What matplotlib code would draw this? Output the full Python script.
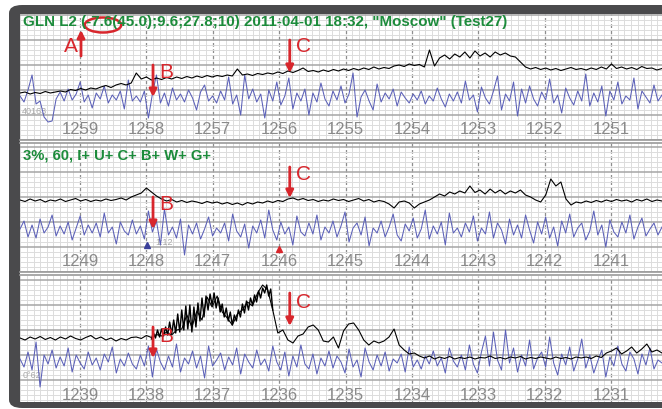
import numpy as np
import matplotlib
matplotlib.use("Agg")
import matplotlib.pyplot as plt
import matplotlib.transforms as mtransforms
from matplotlib.patches import FancyBboxPatch, Rectangle, Ellipse
from matplotlib.ticker import MultipleLocator

plt.rcParams['font.family'] = ['Liberation Sans', 'DejaVu Sans']

# ---- data ----
title_text = 'GLN L2 (-7.6(45.0);9.6;27.8;10) 2011-04-01 18:32, "Moscow" (Test27)'
mode_text = '3%, 60, I+ U+ C+ B+ W+ G+'

p1_ticks = [1259, 1258, 1257, 1256, 1255, 1254, 1253, 1252, 1251]
p2_ticks = [1249, 1248, 1247, 1246, 1245, 1244, 1243, 1242, 1241]
p3_ticks = [1239, 1238, 1237, 1236, 1235, 1234, 1233, 1232, 1231]

# faint counter labels at the left/bottom of each strip: panel, x, y, text
faint_notes = [(0, 1259.87, 5.8, '40163'), (1, 1247.86, 5.8, '1:12'), (2, 1239.87, 5.9, '0°62')]

p1_black = [9.4, 9.6, 9.2, 9.5, 9.3, 9.7, 9.4, 9.6,
            9.8, 9.6, 10.1, 9.9, 10.3, 10.0, 10.4, 10.2,
            10.6, 10.9, 10.5, 11.0, 11.3, 11.0, 11.4, 13.4,
            12.2, 12.6, 12.0, 12.4, 12.1, 12.5, 12.2, 12.6,
            12.3, 12.7, 12.4, 12.8, 12.5, 12.9, 12.6, 12.9,
            12.7, 13.0, 12.8, 14.2, 13.0, 13.2, 12.9, 13.3,
            13.1, 13.4, 13.2, 13.6, 13.3, 13.8, 13.5, 13.9,
            14.4, 13.7, 13.9, 13.6, 14.0, 13.7, 14.1, 13.8,
            14.2, 13.9, 14.3, 14.0, 14.4, 14.1, 14.6, 14.2,
            14.5, 14.3, 14.8, 15.0, 14.7, 15.2, 14.9, 15.1,
            14.6, 18.0, 14.8, 16.4, 17.0, 16.2, 17.2, 16.6,
            17.6, 16.4, 17.8, 16.8, 17.4, 16.6, 17.6, 17.0,
            17.4, 16.8, 16.6, 15.6, 14.6, 14.2, 14.5, 14.1,
            14.4, 14.0, 14.3, 13.9, 14.2, 14.5, 14.1, 14.3,
            14.0, 14.4, 14.1, 14.6, 14.2, 15.2, 14.3, 14.6,
            14.2, 14.5, 14.1, 14.7, 14.3, 14.4, 14.0, 14.3]

p1_blue = [8.8, 7.6, 10.0, 13.0, 7.2, 7.8, 4.6, 3.6, 3.8, 8.2,
           9.6, 7.8, 10.2, 8.0, 9.2, 11.6, 7.6, 9.0, 6.4, 9.4,
           8.2, 10.8, 7.4, 9.0, 8.0, 9.8, 6.2, 12.0, 7.8, 8.8,
           7.6, 9.8, 4.4, 9.2, 13.0, 7.4, 9.4, 6.8, 10.4, 8.0,
           9.2, 7.6, 10.0, 8.4, 6.0, 9.6, 11.0, 7.8, 8.8, 7.4,
           9.8, 8.0, 12.6, 7.2, 9.0, 5.0, 13.0, 8.2, 10.2, 7.6,
           9.2, 4.4, 10.0, 7.8, 11.6, 7.0, 8.8, 12.4, 6.2, 9.4,
           7.8, 10.2, 5.0, 9.4, 7.6, 11.4, 8.2, 6.8, 9.8, 8.0,
           10.8, 7.4, 9.2, 13.4, 4.6, 8.6, 10.0, 7.8, 6.0, 11.2,
           7.6, 9.4, 8.2, 10.2, 6.8, 9.6, 8.4, 7.4, 9.2, 8.0,
           9.8, 7.2, 8.8, 7.8, 10.4, 8.2, 6.6, 9.2, 7.8, 9.6,
           7.4, 11.8, 8.0, 9.0, 5.6, 10.6, 8.4, 7.2, 9.8, 12.8,
           6.0, 9.2, 7.8, 11.6, 4.8, 10.2, 7.4, 10.8, 8.2, 6.8,
           9.6, 8.0, 12.2, 7.4, 9.0, 5.4, 10.4, 8.4, 7.0, 9.8,
           7.8, 13.2, 6.8, 9.4, 7.6, 10.8, 4.8, 9.8, 8.0, 11.6,
           7.2, 8.8, 8.0, 12.4, 6.2, 9.8, 8.6, 7.4, 11.0, 7.8, 9.0]

p2_black = [14.4, 14.1, 14.6, 14.2, 14.5, 14.0, 14.4, 14.2,
            14.6, 14.1, 14.4, 14.7, 14.2, 14.5, 14.1, 14.4,
            14.2, 14.6, 14.3, 14.5, 14.8, 14.4, 15.0, 15.4,
            15.8, 16.8, 16.0, 15.2, 14.6, 14.2, 14.5, 14.0,
            14.3, 13.9, 14.2, 14.0, 13.7, 14.1, 13.8, 14.0,
            13.6, 13.9, 13.5, 13.8, 13.4, 13.9, 13.6, 14.0,
            13.8, 14.2, 13.9, 14.3, 14.1, 14.6, 14.8, 14.4,
            14.7, 14.3, 14.5, 14.1, 14.4, 14.2, 14.6, 14.3,
            14.5, 14.1, 14.4, 14.7, 14.2, 14.5, 14.0, 14.3,
            14.1, 13.6, 12.8, 14.0, 14.2, 13.8, 12.8, 13.6,
            14.0, 14.4, 15.0, 15.6, 15.2, 16.0, 15.6, 16.2,
            15.8, 17.2, 15.9, 16.4, 15.6, 16.6, 15.8, 16.4,
            15.6, 16.2, 15.8, 16.4, 15.4, 15.0, 14.4, 14.0,
            15.4, 18.6, 17.2, 18.0, 14.6, 13.4, 14.0, 13.8,
            14.2, 13.9, 14.3, 14.0, 14.4, 14.1, 14.5, 14.2,
            14.4, 14.0, 14.5, 14.2, 14.6, 14.1, 14.4, 14.2]

p2_blue = [8.6, 10.2, 7.0, 9.4, 6.8, 10.6, 7.8, 9.0, 11.4, 7.2,
           9.2, 7.6, 10.0, 6.4, 8.8, 11.2, 7.4, 9.4, 7.8, 9.8,
           7.0, 11.8, 7.8, 9.0, 5.6, 10.0, 8.2, 7.4, 10.4, 7.6,
           9.2, 6.6, 12.2, 8.0, 10.2, 5.4, 12.6, 7.4, 9.0, 6.8,
           10.6, 3.4, 9.4, 7.6, 9.8, 6.6, 8.6, 11.0, 7.2, 8.8,
           7.8, 9.8, 6.2, 11.6, 8.2, 7.0, 9.6, 4.8, 9.2, 7.8,
           10.4, 6.8, 12.4, 8.4, 6.4, 10.0, 7.6, 9.0, 5.4, 11.2,
           8.0, 7.2, 9.8, 7.6, 11.4, 6.4, 9.0, 7.8, 10.2, 7.0,
           9.2, 12.0, 6.0, 8.8, 9.8, 7.4, 11.0, 5.2, 8.8, 7.8,
           10.2, 7.0, 9.0, 11.6, 7.4, 6.2, 9.6, 8.2, 10.8, 6.8,
           8.6, 12.4, 6.6, 9.2, 7.6, 10.0, 5.4, 11.8, 7.8, 8.8,
           7.0, 9.8, 8.0, 11.2, 6.2, 8.8, 7.6, 12.0, 6.8, 9.8,
           8.4, 5.6, 10.6, 7.4, 9.4, 6.8, 11.4, 8.4, 5.8, 10.0,
           7.6, 11.0, 6.8, 9.0, 5.2, 10.2, 7.8, 11.6, 7.0, 8.8,
           9.8, 6.4, 8.2, 12.2, 7.4, 9.4, 5.0, 10.4, 8.0, 7.0,
           10.0, 7.8, 11.4, 6.6, 9.0, 10.8, 7.2, 8.6, 9.8, 7.4, 9.0]

p3_black = [13.4, 13.0, 13.6, 13.2, 13.7, 13.1, 13.5, 13.0,
            13.6, 13.2, 13.8, 13.3, 13.0, 13.5, 13.9, 13.2,
            13.6, 13.0, 13.4, 12.8, 13.3, 13.0, 13.5, 13.6,
            13.3, 13.9, 13.5, 14.1, 13.8, 14.6, 14.0, 15.0,
            15.2, 18.0, 15.6, 18.8, 17.0, 21.6, 19.6, 21.8,
            18.6, 17.4, 16.0, 18.2, 19.0, 20.6, 19.8, 22.4,
            24.0, 23.0, 19.0, 14.4, 15.0, 13.0, 12.4, 13.8,
            14.2, 15.6, 16.0, 15.0, 12.8, 12.6, 13.6, 11.4,
            14.8, 16.2, 16.4, 15.0, 13.0, 12.0, 12.8, 12.4,
            12.8, 13.6, 15.2, 12.0, 11.0, 10.2, 10.4, 9.8,
            9.4, 9.8, 9.2, 9.6, 9.3, 9.7, 9.2, 9.5,
            9.3, 9.6, 9.2, 9.5, 9.4, 9.8, 9.3, 9.5,
            9.2, 9.6, 9.4, 9.7, 9.2, 9.5, 9.3, 9.6,
            9.4, 9.2, 9.6, 9.3, 9.5, 9.2, 9.6, 9.4,
            9.6, 9.3, 9.8, 9.5, 10.4, 10.8, 11.4, 10.2,
            10.8, 11.6, 10.4, 11.2, 12.2, 10.6, 11.0, 10.4]

# finer samples of the noisy burst (spans samples 26..50 of p3_black)
p3_burst = [13.2, 14.4, 13.4, 15.0, 13.6, 15.2,
            13.8, 15.6, 14.0, 16.6, 14.2, 17.0,
            14.4, 18.2, 14.6, 19.0, 15.0, 19.8,
            15.2, 20.0, 14.6, 19.6, 15.6, 20.4,
            16.8, 21.4, 17.6, 21.8, 19.0, 22.2,
            20.0, 22.4, 19.4, 21.4, 18.6, 20.2,
            17.6, 19.4, 16.8, 18.6, 16.0, 18.0,
            16.8, 19.0, 17.6, 20.2, 18.4, 20.8,
            19.0, 21.4, 20.0, 22.0, 20.6, 22.8,
            21.4, 23.4, 22.4, 24.0, 21.8, 23.2,
            19.0]

p3_blue = [9.2, 7.6, 10.6, 7.0, 12.6, 3.6, 10.0, 8.2, 11.0, 7.4,
           9.6, 7.8, 11.4, 6.6, 10.0, 8.4, 7.2, 10.6, 8.0, 9.4,
           7.0, 10.2, 8.6, 11.6, 6.4, 9.2, 7.8, 10.4, 8.2, 7.2,
           10.0, 7.8, 11.8, 5.6, 11.2, 8.6, 7.0, 9.8, 7.6, 12.2,
           6.6, 9.4, 8.2, 10.8, 7.4, 9.8, 5.4, 11.8, 7.8, 9.0,
           10.4, 7.0, 9.6, 8.0, 11.4, 6.2, 10.2, 8.6, 7.4, 11.0,
           8.0, 9.2, 6.8, 11.8, 8.6, 7.0, 10.6, 5.8, 9.8, 7.6,
           12.0, 8.2, 7.2, 10.2, 6.2, 9.4, 7.8, 10.8, 7.4, 9.8,
           8.6, 6.4, 11.2, 7.6, 9.0, 5.6, 11.4, 8.6, 7.0, 10.0,
           7.8, 10.6, 6.8, 9.2, 8.4, 10.2, 6.6, 11.6, 7.6, 9.0,
           7.2, 9.8, 8.2, 10.8, 7.8, 9.4, 6.4, 11.4, 8.8, 7.6,
           10.0, 7.0, 12.0, 8.2, 6.4, 10.6, 13.8, 7.8, 14.6, 9.0,
           7.0, 15.0, 8.4, 11.4, 6.6, 10.0, 7.8, 13.0, 7.2, 9.4,
           10.6, 7.6, 13.6, 8.4, 6.0, 10.2, 8.0, 11.6, 6.8, 9.2,
           13.2, 7.4, 10.0, 6.4, 8.8, 11.0, 5.6, 9.6, 7.8, 11.8,
           8.2, 6.8, 10.6, 9.2, 6.2, 10.2, 8.0, 11.4, 7.2, 9.0, 8.4]

# red markers: panel, x, arrow tail y, arrow head y, letter, letter x, letter y, side
arrows = [
    (0, 1258.985, 16.8, 22.0, 'A', 1259.03, 18.6, 'right'),
    (0, 1257.90, 15.0, 8.6, 'B', 1257.81, 13.6, 'left'),
    (0, 1255.84, 20.0, 13.4, 'C', 1255.75, 18.6, 'left'),
    (1, 1247.90, 15.0, 8.6, 'B', 1247.81, 13.4, 'left'),
    (1, 1245.84, 21.0, 14.8, 'C', 1245.75, 19.4, 'left'),
    (2, 1237.90, 15.6, 9.4, 'B', 1237.81, 13.8, 'left'),
    (2, 1235.84, 22.4, 15.8, 'C', 1235.75, 20.6, 'left'),
]

RED = '#d8262c'
BLUE = '#5b60b8'
GREEN = '#1c8b3b'
FRAME = '#4a4a4c'

W, H = 662, 409


def fx(px):
    return px / W


def fy(py):
    return 1 - py / H


def setup_panel(fig, top, bottom, x0, x1, y0, y1):
    ax = fig.add_axes([fx(20), fy(bottom), fx(W - 20), (bottom - top) / H])
    ax.set_xlim(x0, x1)
    ax.set_ylim(y0, y1)
    ax.xaxis.set_major_locator(MultipleLocator(1))
    ax.xaxis.set_minor_locator(MultipleLocator(0.1))
    ax.yaxis.set_major_locator(MultipleLocator(5))
    ax.yaxis.set_minor_locator(MultipleLocator(1))
    ax.grid(which='minor', color='#dcdcdc', lw=0.7)
    ax.grid(which='major', axis='y', color='#a6a6a6', lw=1.1)
    ax.grid(which='major', axis='x', color='#8e8e8e', lw=0.9, ls=(0, (3, 2)))
    ax.set_axisbelow(True)
    ax.tick_params(which='both', length=0, labelbottom=False, labelleft=False)
    for s in ax.spines.values():
        s.set_visible(False)
    trans = mtransforms.blended_transform_factory(ax.transData, ax.transAxes)
    return ax, trans


def main():
    fig = plt.figure(figsize=(W / 100, H / 100), dpi=100)
    fig.patch.set_facecolor('white')

    # dark rounded frame and white inner area
    fig.add_artist(FancyBboxPatch((fx(9), fy(408)), fx(W + 40), (408 - 5) / H,
                                  boxstyle='round,pad=0,rounding_size=0.02',
                                  transform=fig.transFigure, fc=FRAME, ec='none', zorder=0))
    fig.add_artist(Rectangle((fx(20), fy(402)), fx(W), (402 - 14) / H,
                             transform=fig.transFigure, fc='white', ec='none', zorder=0))

    panels = [
        (14, 140, 1259.904, 1250.232, 0.0, 25.2, p1_ticks, p1_black, p1_blue, 130),
        (143, 272, 1249.904, 1240.232, 0.0, 25.8, p2_ticks, p2_black, p2_blue, 261),
        (276, 402, 1239.904, 1230.232, 0.6, 25.8, p3_ticks, p3_black, p3_blue, 396),
    ]
    axes = []
    for top, bottom, x0, x1, y0, y1, ticks, black, blue, label_py in panels:
        ax, trans = setup_panel(fig, top, bottom, x0, x1, y0, y1)
        xb = np.linspace(x0, x1, len(black))
        xu = np.linspace(x0, x1, len(blue))
        ax.plot(xu, blue, color=BLUE, lw=0.75, zorder=2)
        ax.plot(xb, black, color='black', lw=0.8, zorder=3)
        label_y = (bottom - label_py) / (bottom - top)
        for t in ticks:
            ax.text(t, label_y, str(t), transform=trans, ha='center', va='center',
                    fontsize=12, color='#8a8a8a', zorder=4)
        axes.append((ax, xb))

    # noisy burst of the bottom black trace, sampled finer
    ax3, xb3 = axes[2]
    xburst = np.linspace(xb3[26], xb3[50], len(p3_burst))
    ax3.plot(xburst, p3_burst, color='black', lw=1.0, zorder=3)

    # faint counters
    for pi, x, y, txt in faint_notes:
        axes[pi][0].text(x, y, txt, fontsize=6.5, color='#a8a8a8', ha='left', va='center', zorder=1.5)

    # separators between panels
    for py in [140, 142.5, 272, 274.5]:
        fig.add_artist(plt.Line2D([fx(20), 1], [fy(py), fy(py)], color='#9a9a9a', lw=1.2))

    fig.text(fx(23), fy(22), title_text, color=GREEN, fontsize=10.9, fontweight='bold', va='center')
    fig.text(fx(23), fy(155), mode_text, color=GREEN, fontsize=10.6, fontweight='bold', va='center')

    # red annotations
    for pi, x, y_tail, y_head, letter, lx, ly, side in arrows:
        ax = axes[pi][0]
        ax.annotate('', xy=(x, y_head), xytext=(x, y_tail),
                    arrowprops=dict(arrowstyle='-|>', color=RED, lw=2.0, mutation_scale=11,
                                    shrinkA=0, shrinkB=0), annotation_clip=False, zorder=6)
        ax.text(lx, ly, letter, color=RED, fontsize=15, ha=side, va='center', zorder=6)

    ax1 = axes[0][0]
    ax1.add_patch(Ellipse((1258.654, 23.0), 0.55, 3.0, fill=False, ec=RED, lw=1.8,
                          clip_on=False, zorder=6))
    ax2 = axes[1][0]
    ax2.plot([1246.0], [4.6], marker='^', color=RED, ms=5, zorder=6)
    ax2.plot([1247.99], [5.4], marker='^', color='#3a3f9a', ms=4, zorder=6)

    fig.savefig('out.png', dpi=100, facecolor='white')


if __name__ == '__main__':
    main()
